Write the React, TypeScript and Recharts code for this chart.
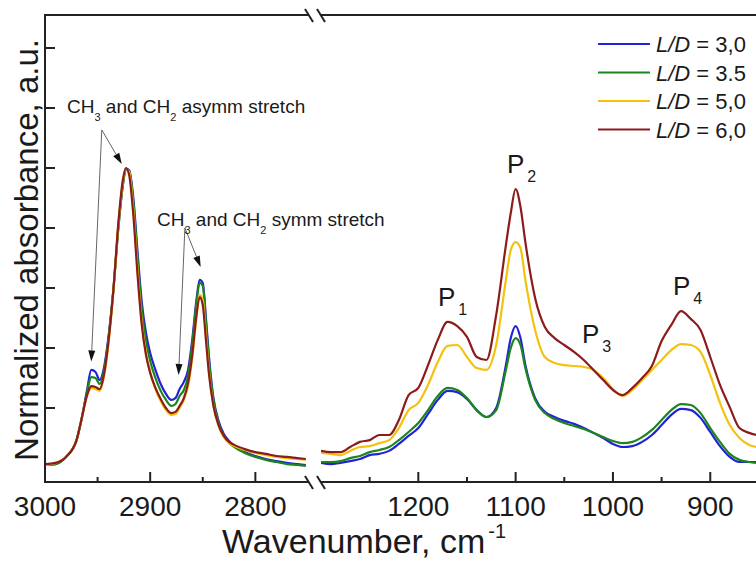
import { LineChart, Line, XAxis, YAxis, ReferenceLine } from "recharts";

// wavenumbers, cm-1 (left panel: C-H stretch region)
const leftWavenumber = [
  3000, 2990, 2980, 2970, 2965, 2960, 2956, 2952, 2948, 2944, 2940, 2935, 2930, 2926, 2923, 2920,
  2916, 2912, 2908, 2904, 2900, 2895, 2890, 2885, 2880, 2876, 2872, 2868, 2864, 2860, 2856, 2853,
  2850, 2847, 2844, 2840, 2835, 2830, 2825, 2820, 2810, 2800, 2790, 2780, 2770, 2760, 2752,
];
const ld30Left = [
  0.01, 0.013, 0.037, 0.093, 0.167, 0.26, 0.327, 0.32, 0.293, 0.333, 0.427, 0.593, 0.81, 0.943, 0.997, 0.993,
  0.9, 0.72, 0.553, 0.45, 0.383, 0.327, 0.28, 0.247, 0.227, 0.233, 0.263, 0.287, 0.327, 0.427, 0.56, 0.627,
  0.617, 0.5, 0.367, 0.237, 0.157, 0.113, 0.09, 0.073, 0.053, 0.04, 0.03, 0.023, 0.017, 0.013, 0.01,
];
const ld35Left = [
  0.01, 0.013, 0.037, 0.093, 0.167, 0.253, 0.303, 0.3, 0.28, 0.323, 0.42, 0.593, 0.813, 0.943, 0.997, 0.99,
  0.887, 0.7, 0.527, 0.423, 0.357, 0.3, 0.257, 0.227, 0.207, 0.213, 0.24, 0.26, 0.307, 0.413, 0.55, 0.617,
  0.607, 0.487, 0.353, 0.23, 0.15, 0.107, 0.083, 0.07, 0.05, 0.037, 0.027, 0.02, 0.013, 0.01, 0.007,
];
const ld50Left = [
  0.01, 0.017, 0.037, 0.093, 0.167, 0.24, 0.267, 0.263, 0.257, 0.303, 0.403, 0.59, 0.82, 0.953, 0.997, 0.987,
  0.86, 0.66, 0.487, 0.383, 0.32, 0.263, 0.223, 0.193, 0.177, 0.18, 0.2, 0.227, 0.273, 0.367, 0.5, 0.577,
  0.56, 0.443, 0.32, 0.21, 0.14, 0.103, 0.083, 0.073, 0.06, 0.05, 0.043, 0.037, 0.033, 0.03, 0.027,
];
const ld60Left = [
  0.013, 0.017, 0.037, 0.093, 0.167, 0.243, 0.273, 0.27, 0.263, 0.31, 0.41, 0.593, 0.827, 0.96, 1.0, 0.977,
  0.843, 0.643, 0.477, 0.377, 0.317, 0.267, 0.23, 0.2, 0.183, 0.187, 0.207, 0.233, 0.283, 0.377, 0.51, 0.57,
  0.543, 0.427, 0.31, 0.21, 0.143, 0.107, 0.087, 0.077, 0.063, 0.053, 0.047, 0.04, 0.037, 0.033, 0.03,
];

// right panel: fingerprint region
const rightWavenumber = [
  1300, 1290, 1280, 1270, 1260, 1250, 1240, 1230, 1220, 1210, 1200, 1190, 1180, 1170, 1160, 1150,
  1140, 1130, 1120, 1110, 1105, 1100, 1095, 1090, 1080, 1070, 1060, 1050, 1040, 1030, 1020, 1010,
  1000, 990, 980, 970, 960, 950, 940, 930, 920, 910, 900, 890, 880, 870, 860, 853,
];
const ld30Right = [
  0.017, 0.013, 0.017, 0.023, 0.03, 0.043, 0.047, 0.057, 0.08, 0.107, 0.133, 0.18, 0.227, 0.257, 0.253, 0.23,
  0.193, 0.17, 0.2, 0.343, 0.433, 0.473, 0.433, 0.343, 0.233, 0.187, 0.17, 0.157, 0.147, 0.133, 0.117, 0.1,
  0.08, 0.07, 0.073, 0.087, 0.11, 0.143, 0.177, 0.197, 0.193, 0.167, 0.12, 0.073, 0.037, 0.02, 0.02, 0.02,
];
const ld35Right = [
  0.02, 0.02, 0.023, 0.033, 0.04, 0.053, 0.06, 0.07, 0.093, 0.12, 0.15, 0.193, 0.24, 0.267, 0.26, 0.233,
  0.193, 0.17, 0.193, 0.327, 0.4, 0.433, 0.41, 0.333, 0.227, 0.183, 0.163, 0.15, 0.14, 0.13, 0.117, 0.103,
  0.09, 0.083, 0.087, 0.103, 0.127, 0.16, 0.193, 0.213, 0.21, 0.183, 0.133, 0.087, 0.047, 0.027, 0.02, 0.017,
];
const ld50Right = [
  0.05, 0.047, 0.043, 0.057, 0.07, 0.073, 0.083, 0.093, 0.133, 0.193, 0.217, 0.277, 0.353, 0.407, 0.41, 0.37,
  0.333, 0.327, 0.41, 0.627, 0.727, 0.753, 0.733, 0.627, 0.46, 0.37, 0.35, 0.343, 0.34, 0.337, 0.327, 0.3,
  0.263, 0.24, 0.26, 0.293, 0.327, 0.36, 0.393, 0.413, 0.41, 0.387, 0.31, 0.217, 0.143, 0.1, 0.077, 0.07,
];
const ld60Right = [
  0.057, 0.053, 0.053, 0.07, 0.087, 0.093, 0.11, 0.11, 0.16, 0.243, 0.267, 0.343, 0.427, 0.487, 0.473, 0.437,
  0.37, 0.36, 0.51, 0.743, 0.85, 0.93, 0.87, 0.753, 0.567, 0.47, 0.433, 0.41, 0.387, 0.36, 0.327, 0.293,
  0.26, 0.243, 0.267, 0.3, 0.34, 0.423, 0.477, 0.523, 0.497, 0.46, 0.37, 0.277, 0.203, 0.133, 0.117, 0.11,
];

const leftTicks = [3000, 2950, 2900, 2850, 2800];
const leftLabels = [3000, 2900, 2800];
const rightTicks = [1250, 1200, 1150, 1100, 1050, 1000, 950, 900];
const rightLabels = [1200, 1100, 1000, 900];
const yTicks = [0.2, 0.4, 0.6, 0.8, 1.0, 1.2, 1.4];

const seriesKeys = ["ld30", "ld35", "ld50", "ld60"];
const seriesNames = ["3,0", "3.5", "5,0", "6,0"];
const seriesColors = ["#2323d6", "#1c861c", "#f4c20d", "#8c1c1c"];

// annotation arrows: [from wavenumber, from value, to wavenumber, to value]
const asymmArrows = [
  [2946, 1.127, 2927, 1.013],
  [2946, 1.127, 2956, 0.355],
];
const symmArrows = [
  [2867, 0.8, 2852, 0.67],
  [2867, 0.8, 2873, 0.31],
];

const yDomain = [-0.0467, 1.51];
const leftDomain = [2749, 3000];
const rightDomain = [853, 1300];

const FONT = "'Liberation Sans', Arial, sans-serif";
const INK = "#1a1a1a";
const AXIS = "#222";

// plot frame (pixels), shared by both panels
const TOP = 15;
const BOTTOM = 482;
const LEFT_X0 = 45;
const LEFT_X1 = 309;
const RIGHT_X0 = 321;
const RIGHT_X1 = 756;

const leftData = leftWavenumber.map((w, i) => ({
  w, ld30: ld30Left[i], ld35: ld35Left[i], ld50: ld50Left[i], ld60: ld60Left[i],
}));
const rightData = rightWavenumber.map((w, i) => ({
  w, ld30: ld30Right[i], ld35: ld35Right[i], ld50: ld50Right[i], ld60: ld60Right[i],
}));

// ticks point inward, majors longer
const bottomTick = (labels: number[]) => (p: any) => {
  const major = labels.includes(p.payload.value);
  return (
    <g>
      <rect x={p.x - 1} y={p.y - (major ? 10 : 5)} width={2} height={major ? 10 : 5} fill={AXIS} />
      {major && (
        <text x={p.x} y={p.y + 34} textAnchor="middle" fontSize={28} fontFamily={FONT} fill={INK}>
          {p.payload.value}
        </text>
      )}
    </g>
  );
};
const topTick = (labels: number[]) => (p: any) => {
  const major = labels.includes(p.payload.value);
  return <rect x={p.x - 1} y={p.y} width={2} height={major ? 10 : 5} fill={AXIS} />;
};
const leftTick = (p: any) => <rect x={p.x} y={p.y - 1} width={10} height={2} fill={AXIS} />;

function Arrow(props: any) {
  const { x1, y1, x2, y2 } = props;
  const dx = x2 - x1;
  const dy = y2 - y1;
  const len = Math.hypot(dx, dy) || 1;
  const ux = dx / len;
  const uy = dy / len;
  const hl = 11;
  const hw = 3.5;
  const bx = x2 - ux * hl;
  const by = y2 - uy * hl;
  const pts = `${x2},${y2} ${bx - uy * hw},${by + ux * hw} ${bx + uy * hw},${by - ux * hw}`;
  return (
    <g>
      <line x1={x1} y1={y1} x2={bx} y2={by} stroke="#666" strokeWidth={1} />
      <polygon points={pts} fill="#111" />
    </g>
  );
}

function renderLines() {
  return seriesKeys.map((k, i) => (
    <Line
      key={k}
      dataKey={k}
      type="monotone"
      stroke={seriesColors[i]}
      strokeWidth={2.2}
      dot={false}
      activeDot={false}
      isAnimationActive={false}
    />
  ));
}

function Panel({ data, domain, ticks, labels, width, marginLeft, marginRight, withY, arrows }: any) {
  return (
    <LineChart
      width={width}
      height={561}
      data={data}
      margin={{ top: TOP, right: marginRight, bottom: 0, left: marginLeft }}
    >
      <XAxis
        dataKey="w"
        type="number"
        domain={domain}
        reversed
        ticks={ticks}
        interval={0}
        tickSize={0}
        tickMargin={0}
        height={561 - BOTTOM}
        tick={bottomTick(labels)}
        tickLine={false}
        axisLine={false}
        allowDataOverflow
      />
      <XAxis
        xAxisId="top"
        orientation="top"
        dataKey="w"
        type="number"
        domain={domain}
        reversed
        ticks={ticks}
        interval={0}
        tickSize={0}
        tickMargin={0}
        height={0}
        tick={topTick(labels)}
        tickLine={false}
        axisLine={false}
        allowDataOverflow
      />
      <YAxis
        type="number"
        domain={yDomain}
        ticks={yTicks}
        interval={0}
        hide={!withY}
        width={withY ? LEFT_X0 : 0}
        tickSize={0}
        tickMargin={0}
        tick={leftTick}
        tickLine={false}
        axisLine={false}
        allowDataOverflow
      />
      {renderLines()}
      {arrows &&
        arrows.map((a: number[], i: number) => (
          <ReferenceLine
            key={i}
            segment={[{ x: a[0], y: a[1] }, { x: a[2], y: a[3] }]}
            ifOverflow="visible"
            shape={Arrow}
          />
        ))}
    </LineChart>
  );
}

function BreakMarks({ y }: { y: number }) {
  return (
    <g stroke={AXIS} strokeWidth={2}>
      <line x1={305} y1={y - 6} x2={313} y2={y + 7} />
      <line x1={317} y1={y - 6} x2={325} y2={y + 7} />
    </g>
  );
}

export default function App() {
  return (
    <div style={{ position: "absolute", left: 0, top: 0, width: 756, height: 561, overflow: "hidden", background: "#fff" }}>
      <div style={{ position: "absolute", left: 0, top: 0 }}>
        <Panel
          data={leftData}
          domain={leftDomain}
          ticks={leftTicks}
          labels={leftLabels}
          width={LEFT_X1 + 21}
          marginLeft={0}
          marginRight={21}
          withY
          arrows={[...asymmArrows, ...symmArrows]}
        />
      </div>
      <div style={{ position: "absolute", left: 300, top: 0 }}>
        <Panel
          data={rightData}
          domain={rightDomain}
          ticks={rightTicks}
          labels={rightLabels}
          width={RIGHT_X1 - 300}
          marginLeft={RIGHT_X0 - 300}
          marginRight={0}
          withY={false}
        />
      </div>
      <svg
        width={756}
        height={561}
        style={{ position: "absolute", left: 0, top: 0, pointerEvents: "none" }}
        fontFamily={FONT}
        fill={INK}
      >
        {/* frame */}
        <g fill={AXIS}>
          <rect x={LEFT_X0 - 1} y={TOP - 1} width={LEFT_X1 - LEFT_X0 + 1} height={2} />
          <rect x={LEFT_X0 - 1} y={BOTTOM - 1} width={LEFT_X1 - LEFT_X0 + 1} height={2} />
          <rect x={LEFT_X0 - 1} y={TOP - 1} width={2} height={BOTTOM - TOP + 2} />
          <rect x={RIGHT_X0} y={TOP - 1} width={RIGHT_X1 - RIGHT_X0} height={2} />
          <rect x={RIGHT_X0} y={BOTTOM - 1} width={RIGHT_X1 - RIGHT_X0} height={2} />
        </g>
        <BreakMarks y={TOP} />
        <BreakMarks y={BOTTOM} />

        <text transform="translate(38,250) rotate(-90)" textAnchor="middle" fontSize={33}>
          Normalized absorbance, a.u.
        </text>
        <text x={222} y={553} fontSize={34}>
          Wavenumber, cm<tspan fontSize={20} dx={3} dy={-15}>-1</tspan>
        </text>

        <text x={67} y={113} fontSize={19}>
          CH<tspan fontSize={11} dy={8}>3</tspan>
          <tspan dy={-8}> and CH</tspan>
          <tspan fontSize={11} dy={8}>2</tspan>
          <tspan dy={-8}> asymm stretch</tspan>
        </text>
        <text x={157} y={226} fontSize={19}>
          CH<tspan fontSize={11} dy={8}>3</tspan>
          <tspan dy={-8}> and CH</tspan>
          <tspan fontSize={11} dy={8}>2</tspan>
          <tspan dy={-8}> symm stretch</tspan>
        </text>

        <text x={438} y={306} fontSize={26}>
          P<tspan fontSize={16} dx={3} dy={9}>1</tspan>
        </text>
        <text x={507} y={173} fontSize={26}>
          P<tspan fontSize={16} dx={3} dy={9}>2</tspan>
        </text>
        <text x={582} y={343} fontSize={26}>
          P<tspan fontSize={16} dx={3} dy={9}>3</tspan>
        </text>
        <text x={673} y={295} fontSize={26}>
          P<tspan fontSize={16} dx={3} dy={9}>4</tspan>
        </text>

        {seriesNames.map((n, i) => {
          const cy = 44 + i * 28.5;
          return (
            <g key={n}>
              <line x1={598} x2={650} y1={cy} y2={cy} stroke={seriesColors[i]} strokeWidth={2} />
              <text x={656} y={cy + 8} fontSize={22}>
                <tspan fontStyle="italic">L/D</tspan> = {n}
              </text>
            </g>
          );
        })}
      </svg>
    </div>
  );
}
